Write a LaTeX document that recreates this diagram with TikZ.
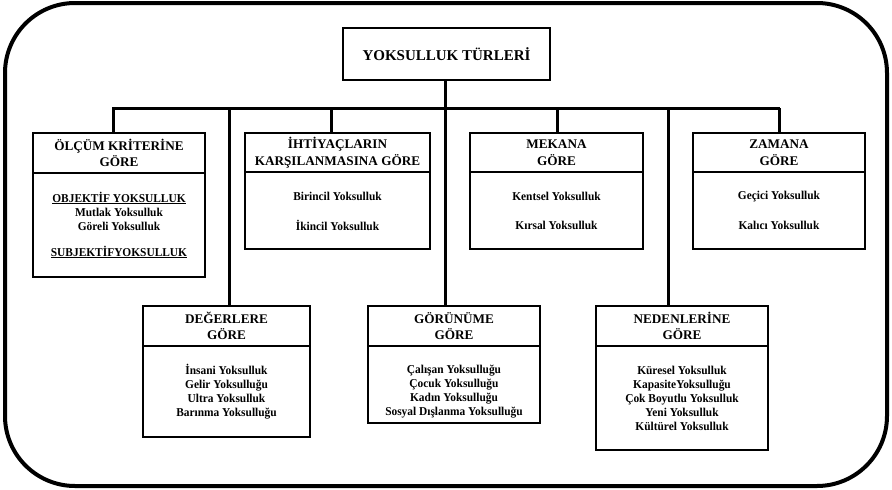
\documentclass[tikz,border=0pt]{standalone}
\usepackage{fontspec}
\setmainfont{Liberation Serif}
\newfontfamily\itemfont[FakeStretch=0.95]{Liberation Serif}
\begin{document}
\begin{tikzpicture}[x=1pt,y=-1pt,
  frame/.style={draw, line width=4pt, rounded corners=70pt},
  wire/.style={draw, line width=3pt},
  hdr/.style={draw, line width=2.6pt, inner sep=0pt, align=center,
    font=\bfseries\fontsize{13.2}{16.5}\selectfont},
  bodybox/.style={draw, line width=2.6pt, inner sep=0pt},
  item/.style={align=center, inner sep=0pt, font=\itemfont\bfseries\fontsize{12}{14}\selectfont},
  titlebox/.style={draw, line width=2.6pt, inner sep=0pt, align=center,
    font=\bfseries\fontsize{15}{17}\selectfont, minimum width=207pt, minimum height=52pt}]
\useasboundingbox (0,0) rectangle (892,490);
\draw[frame] (5,3) rectangle (887,486);

% title
\node[titlebox] (top) at (446.5,54) {YOKSULLUK TÜRLERİ};

% top row
\node[hdr, minimum width=172pt, minimum height=40pt] (olcH) at (119,153) {ÖLÇÜM KRİTERİNE\\GÖRE};
\node[bodybox, minimum width=172pt, minimum height=104pt] (olcB) at (119,225) {};
\node[item] (olc1) at (119,211) {\underline{OBJEKTİF YOKSULLUK}\\Mutlak Yoksulluk\\Göreli Yoksulluk};
\node[item] (olc2) at (119,252) {\underline{SUBJEKTİFYOKSULLUK}};

\node[hdr, minimum width=185pt, minimum height=39pt] (ihtH) at (337.5,152.5) {İHTİYAÇLARIN\\KARŞILANMASINA GÖRE};
\node[bodybox, minimum width=185pt, minimum height=77pt] (ihtB) at (337.5,210.5) {};
\node[item] (iht1) at (337.5,196) {Birincil Yoksulluk};
\node[item] (iht2) at (337.5,225) {İkincil Yoksulluk};

\node[hdr, minimum width=173pt, minimum height=39pt] (mekH) at (556.5,152.5) {MEKANA\\GÖRE};
\node[bodybox, minimum width=173pt, minimum height=77pt] (mekB) at (556.5,210.5) {};
\node[item] (mek1) at (556.5,196) {Kentsel Yoksulluk};
\node[item] (mek2) at (556.5,225) {Kırsal Yoksulluk};

\node[hdr, minimum width=172pt, minimum height=39pt] (zamH) at (779,152.5) {ZAMANA\\GÖRE};
\node[bodybox, minimum width=172pt, minimum height=77pt] (zamB) at (779,210.5) {};
\node[item] (zam1) at (779,197) {Geçici Yoksulluk};
\node[item] (zam2) at (779,225) {Kalıcı Yoksulluk};

% bottom row
\node[hdr, minimum width=167pt, minimum height=40pt] (degH) at (226.5,326) {DEĞERLERE\\GÖRE};
\node[bodybox, minimum width=167pt, minimum height=91pt] (degB) at (226.5,391.5) {};
\node[item] (deg1) at (226.5,392) {İnsani Yoksulluk\\Gelir Yoksulluğu\\Ultra Yoksulluk\\Barınma Yoksulluğu};

\node[hdr, minimum width=172pt, minimum height=40pt] (gorH) at (454,326) {GÖRÜNÜME\\GÖRE};
\node[bodybox, minimum width=172pt, minimum height=77pt] (gorB) at (454,384.5) {};
\node[item] (gor1) at (454,391.5) {Çalışan Yoksulluğu\\Çocuk Yoksulluğu\\Kadın Yoksulluğu\\Sosyal Dışlanma Yoksulluğu};

\node[hdr, minimum width=172pt, minimum height=40pt] (nedH) at (682,326) {NEDENLERİNE\\GÖRE};
\node[bodybox, minimum width=172pt, minimum height=104pt] (nedB) at (682,398) {};
\node[item] (ned1) at (682,398) {Küresel Yoksulluk\\KapasiteYoksulluğu\\Çok Boyutlu Yoksulluk\\Yeni Yoksulluk\\Kültürel Yoksulluk};

% connectors
\coordinate (busL) at (112,108);
\coordinate (busR) at (780,108);
\coordinate (c1) at (113,108);
\coordinate (c2) at (229,108);
\coordinate (c3) at (331,108);
\coordinate (c4) at (445,108);
\coordinate (c5) at (557,108);
\coordinate (c6) at (668,108);
\coordinate (c7) at (779,108);
\draw[wire] (busL) -- (busR);
\draw[wire] (c4 |- top.south) -- (c4 |- gorH.north);
\draw[wire] (c1) -- (c1 |- olcH.north);
\draw[wire] (c2) -- (c2 |- degH.north);
\draw[wire] (c3) -- (c3 |- ihtH.north);
\draw[wire] (c5) -- (c5 |- mekH.north);
\draw[wire] (c6) -- (c6 |- nedH.north);
\draw[wire] (c7) -- (c7 |- zamH.north);
\end{tikzpicture}
\end{document}
